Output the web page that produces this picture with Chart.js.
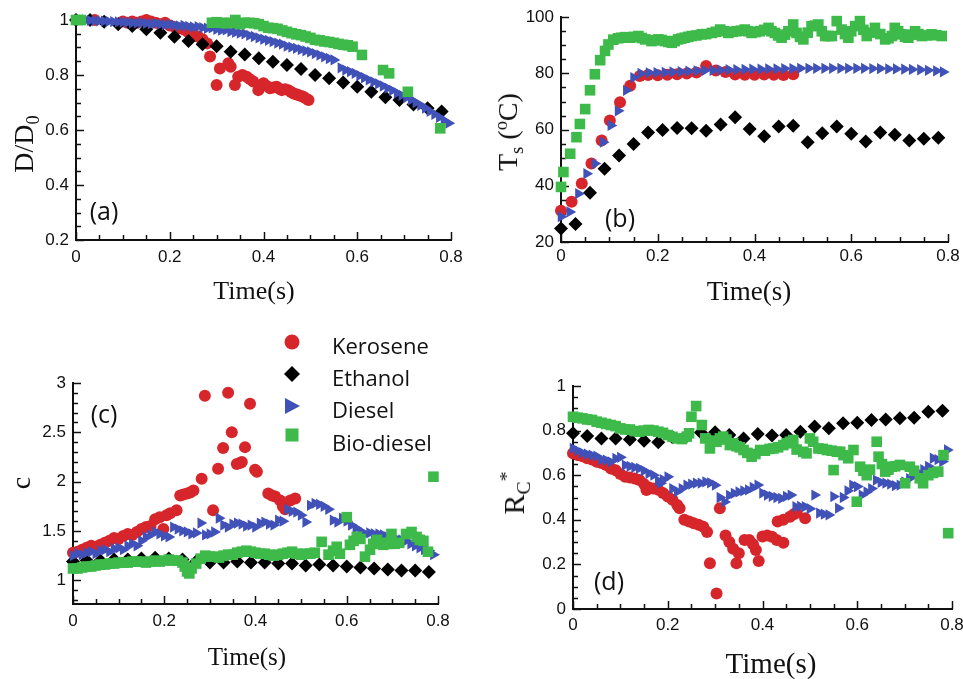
<!DOCTYPE html>
<html><head><meta charset="utf-8">
<script src="https://cdn.jsdelivr.net/npm/chart.js@4.4.0/dist/chart.umd.min.js"></script>
<style>
html,body{margin:0;padding:0;background:#fff;}
body{width:963px;height:679px;overflow:hidden;position:relative;}
canvas{position:absolute;}
.t{position:absolute;white-space:nowrap;font-family:"Liberation Serif","Times New Roman",serif;color:#111;line-height:1;transform:translate(-50%,-50%);}
.rot{transform:translate(-50%,-50%) rotate(-90deg);}
.sub{font-size:66%;position:relative;top:0.3em;}
.sup{font-size:66%;position:relative;top:-0.55em;}
.pl{position:absolute;font-family:"Open Sans",sans-serif;font-size:25px;color:#111;line-height:1;transform:translate(-50%,-50%);}
.lg{position:absolute;font-family:"Open Sans",sans-serif;font-size:22px;color:#111;line-height:1;transform:translate(0,-50%);white-space:nowrap;}
</style></head>
<body>
<canvas id="ca" width="480" height="320" style="left:0;top:0"></canvas>
<canvas id="cb" width="500" height="320" style="left:480px;top:0"></canvas>
<canvas id="cc" width="480" height="359" style="left:0;top:320px"></canvas>
<canvas id="cd" width="500" height="359" style="left:480px;top:320px"></canvas>

<div class="t" style="left:254px;top:291px;font-size:26px">Time(s)</div>
<div class="t" style="left:749px;top:291px;font-size:27px">Time(s)</div>
<div class="t" style="left:247px;top:656px;font-size:25px">Time(s)</div>
<div class="t" style="left:771px;top:663px;font-size:29px">Time(s)</div>

<div class="t rot" style="left:24px;top:144px;font-size:28px">D/D<span class="sub">0</span></div>
<div class="t rot" style="left:508px;top:132px;font-size:28px">T<span class="sub">s</span> (<span class="sup">o</span>C)</div>
<div class="t rot" style="left:21px;top:483px;font-size:28px">c</div>
<div class="t rot" style="left:514px;top:493px;font-size:30px">R<span class="sub">C</span><span class="sup">*</span></div>

<div class="pl" style="left:104px;top:210px">(a)</div>
<div class="pl" style="left:620px;top:217px">(b)</div>
<div class="pl" style="left:104px;top:413px">(c)</div>
<div class="pl" style="left:609px;top:580px">(d)</div>

<svg width="963" height="679" style="position:absolute;left:0;top:0;pointer-events:none">
  <circle cx="292" cy="342" r="7.5" fill="#d7262b"/>
  <polygon points="284,374 292,366 300,374 292,382" fill="#000"/>
  <polygon points="285,398 300,406 285,414" fill="#4051b8"/>
  <rect x="285.5" y="428.5" width="13" height="13" fill="#3dba4a"/>
</svg>
<div class="lg" style="left:332px;top:345px">Kerosene</div>
<div class="lg" style="left:332px;top:377px">Ethanol</div>
<div class="lg" style="left:332px;top:409px">Diesel</div>
<div class="lg" style="left:332px;top:442px">Bio-diesel</div>

<script>
// ---------- tick labels ----------
const xTickValues = [0, 0.2, 0.4, 0.6, 0.8];
const xTickLabels = ['0', '0.2', '0.4', '0.6', '0.8'];
const yTicksA = [0.2, 0.4, 0.6, 0.8, 1];
const yLabelsA = ['0.2', '0.4', '0.6', '0.8', '1'];
const yTicksB = [20, 40, 60, 80, 100];
const yLabelsB = ['20', '40', '60', '80', '100'];
const yTicksC = [1, 1.5, 2, 2.5, 3];
const yLabelsC = ['1', '1.5', '2', '2.5', '3'];
const yTicksD = [0, 0.2, 0.4, 0.6, 0.8, 1];
const yLabelsD = ['0', '0.2', '0.4', '0.6', '0.8', '1'];

// ---------- panel (a): D/D0 ----------
const keroseneA = [[0.04,1.0],[0.10,0.995],[0.11,0.99],[0.12,0.995],[0.13,0.99],[0.14,0.995],[0.15,1.0],[0.16,0.995],[0.17,0.99],[0.18,0.985],[0.19,0.99],[0.20,0.98],[0.21,0.975],[0.22,0.97],[0.23,0.965],[0.24,0.955],[0.25,0.95],[0.26,0.94],[0.27,0.93],[0.28,0.915],[0.286,0.867],[0.30,0.764],[0.307,0.824],[0.325,0.843],[0.33,0.83],[0.339,0.764],[0.346,0.794],[0.355,0.80],[0.364,0.794],[0.371,0.785],[0.378,0.776],[0.389,0.745],[0.40,0.77],[0.407,0.76],[0.414,0.752],[0.421,0.755],[0.428,0.757],[0.434,0.75],[0.439,0.745],[0.446,0.748],[0.453,0.745],[0.459,0.738],[0.464,0.733],[0.47,0.73],[0.474,0.727],[0.48,0.724],[0.485,0.721],[0.49,0.715],[0.496,0.709]];
const ethanolA = [[0,1.0],[0.03,1.0],[0.06,0.994],[0.09,0.985],[0.12,0.978],[0.15,0.966],[0.18,0.954],[0.21,0.939],[0.24,0.924],[0.27,0.912],[0.30,0.905],[0.33,0.885],[0.36,0.875],[0.39,0.861],[0.42,0.848],[0.45,0.836],[0.48,0.822],[0.51,0.80],[0.54,0.788],[0.57,0.773],[0.60,0.757],[0.63,0.739],[0.66,0.719],[0.69,0.709],[0.72,0.693],[0.75,0.679],[0.78,0.667]];
const dieselA = [[0.02,1.0],[0.03,0.999],[0.04,0.998],[0.05,0.997],[0.06,0.996],[0.07,0.995],[0.08,0.994],[0.09,0.993],[0.10,0.992],[0.11,0.991],[0.12,0.99],[0.13,0.989],[0.14,0.99],[0.15,0.988],[0.16,0.986],[0.17,0.988],[0.18,0.985],[0.19,0.983],[0.20,0.984],[0.21,0.981],[0.22,0.979],[0.23,0.98],[0.24,0.977],[0.25,0.975],[0.26,0.976],[0.27,0.972],[0.28,0.97],[0.29,0.971],[0.30,0.966],[0.31,0.963],[0.32,0.964],[0.33,0.958],[0.34,0.955],[0.35,0.952],[0.36,0.95],[0.37,0.944],[0.38,0.94],[0.39,0.935],[0.40,0.93],[0.41,0.926],[0.42,0.921],[0.43,0.916],[0.44,0.912],[0.45,0.905],[0.46,0.901],[0.47,0.897],[0.48,0.892],[0.49,0.888],[0.50,0.884],[0.51,0.878],[0.52,0.872],[0.53,0.866],[0.54,0.86],[0.55,0.855],[0.565,0.826],[0.575,0.818],[0.585,0.812],[0.595,0.806],[0.605,0.798],[0.615,0.79],[0.625,0.782],[0.635,0.775],[0.645,0.768],[0.655,0.76],[0.665,0.752],[0.675,0.744],[0.685,0.735],[0.695,0.726],[0.705,0.718],[0.715,0.71],[0.725,0.70],[0.735,0.69],[0.745,0.68],[0.755,0.668],[0.765,0.657],[0.775,0.646],[0.785,0.635],[0.795,0.625]];
const biodieselA = [[0,1.0],[0.01,1.0],[0.29,0.99],[0.30,0.992],[0.31,0.99],[0.32,0.988],[0.33,0.99],[0.34,1.0],[0.35,0.985],[0.36,0.99],[0.37,0.99],[0.38,0.988],[0.39,0.985],[0.40,0.978],[0.41,0.972],[0.42,0.97],[0.43,0.968],[0.44,0.962],[0.45,0.957],[0.46,0.952],[0.47,0.948],[0.48,0.945],[0.49,0.94],[0.50,0.935],[0.51,0.928],[0.52,0.926],[0.53,0.922],[0.54,0.92],[0.55,0.917],[0.56,0.913],[0.57,0.91],[0.58,0.908],[0.59,0.903],[0.61,0.873],[0.655,0.818],[0.668,0.806],[0.708,0.739],[0.777,0.606]];

// ---------- panel (b): Ts (°C) ----------
const keroseneB = [[0,31.1],[0.022,34.3],[0.043,40.8],[0.063,47.9],[0.084,56.1],[0.101,63.2],[0.122,69.7],[0.143,75.6],[0.163,79.1],[0.18,79.4],[0.20,79.3],[0.22,79.5],[0.24,79.7],[0.26,80.0],[0.28,80.3],[0.30,82.6],[0.32,81.0],[0.34,80.5],[0.36,79.6],[0.38,79.5],[0.40,79.5],[0.42,79.6],[0.44,79.5],[0.46,79.4],[0.48,79.7]];
const ethanolB = [[0,24.8],[0.03,26.4],[0.06,37.5],[0.09,46.1],[0.12,50.8],[0.15,54.9],[0.18,59.0],[0.21,59.9],[0.24,60.6],[0.27,60.5],[0.30,59.6],[0.33,61.8],[0.36,64.4],[0.39,60.2],[0.42,57.6],[0.45,61.1],[0.48,61.4],[0.51,55.5],[0.54,58.7],[0.57,61.1],[0.60,58.5],[0.63,55.8],[0.66,59.0],[0.69,58.2],[0.72,56.1],[0.75,56.7],[0.78,57.1]];
const dieselB = [[0,29.0],[0.018,30.7],[0.036,37.2],[0.053,44.3],[0.07,47.9],[0.087,55.5],[0.103,61.5],[0.118,66.7],[0.135,74.0],[0.15,78.5],[0.165,80.0],[0.182,80.2],[0.198,80.3],[0.215,80.4],[0.231,80.5],[0.248,80.6],[0.264,80.8],[0.281,80.9],[0.297,81.0],[0.314,81.1],[0.33,81.2],[0.347,81.3],[0.363,81.3],[0.38,81.4],[0.396,81.5],[0.413,81.5],[0.429,81.6],[0.446,81.6],[0.462,81.7],[0.479,81.7],[0.495,81.8],[0.512,81.8],[0.528,81.8],[0.545,81.8],[0.561,81.8],[0.578,81.8],[0.594,81.8],[0.611,81.8],[0.627,81.8],[0.644,81.7],[0.66,81.7],[0.677,81.6],[0.693,81.6],[0.71,81.5],[0.726,81.4],[0.743,81.3],[0.759,81.1],[0.776,80.9],[0.79,80.5]];
const biodieselB = [[0,39.6],[0.005,44.9],[0.019,51.4],[0.032,57.3],[0.039,62.0],[0.05,67.3],[0.06,74.0],[0.07,79.7],[0.081,84.7],[0.091,88.0],[0.098,90.3],[0.108,92.0],[0.118,92.5],[0.125,92.7],[0.133,92.9],[0.143,92.7],[0.151,93.0],[0.16,93.3],[0.167,92.6],[0.174,92.1],[0.187,91.5],[0.194,91.8],[0.201,92.1],[0.208,91.9],[0.215,91.5],[0.222,91.2],[0.229,90.9],[0.235,91.5],[0.242,92.1],[0.249,92.4],[0.256,92.7],[0.263,93.0],[0.27,93.3],[0.28,93.5],[0.291,93.9],[0.30,94.0],[0.312,94.4],[0.32,94.8],[0.329,95.6],[0.337,95.0],[0.346,94.4],[0.355,94.8],[0.363,95.0],[0.372,95.2],[0.38,95.6],[0.387,95.0],[0.394,94.4],[0.402,94.7],[0.411,95.0],[0.42,95.5],[0.429,96.2],[0.435,95.0],[0.442,94.4],[0.449,93.5],[0.456,92.7],[0.463,93.8],[0.47,95.0],[0.48,97.4],[0.487,94.4],[0.494,93.0],[0.501,92.1],[0.51,94.5],[0.518,96.8],[0.525,97.0],[0.532,97.4],[0.539,95.0],[0.546,93.3],[0.553,93.3],[0.56,93.3],[0.57,98.6],[0.58,95.6],[0.587,94.0],[0.594,92.7],[0.60,95.0],[0.608,96.8],[0.618,98.6],[0.625,95.5],[0.632,93.3],[0.64,94.5],[0.649,96.2],[0.66,94.0],[0.67,92.1],[0.677,92.5],[0.684,93.3],[0.69,96.2],[0.697,95.0],[0.704,93.9],[0.711,93.0],[0.718,92.7],[0.725,93.8],[0.732,95.0],[0.739,94.0],[0.746,93.3],[0.756,93.5],[0.766,93.9],[0.776,93.6],[0.787,93.3]];

// ---------- panel (c): c ----------
const keroseneC = [[0,1.28],[0.01,1.29],[0.02,1.31],[0.03,1.33],[0.04,1.35],[0.05,1.34],[0.06,1.36],[0.07,1.38],[0.08,1.40],[0.09,1.43],[0.10,1.42],[0.11,1.45],[0.12,1.47],[0.13,1.46],[0.14,1.49],[0.15,1.52],[0.16,1.54],[0.17,1.55],[0.18,1.62],[0.19,1.64],[0.198,1.52],[0.205,1.66],[0.213,1.68],[0.227,1.71],[0.235,1.86],[0.242,1.87],[0.25,1.88],[0.257,1.89],[0.264,1.91],[0.282,2.03],[0.289,2.87],[0.307,1.71],[0.318,2.13],[0.329,2.34],[0.34,2.90],[0.348,2.50],[0.359,2.18],[0.366,2.19],[0.37,2.20],[0.377,2.35],[0.388,2.79],[0.399,2.12],[0.403,2.10],[0.428,1.88],[0.436,1.86],[0.443,1.85],[0.454,1.81],[0.46,1.75],[0.465,1.72],[0.476,1.81],[0.487,1.83]];
const ethanolC = [[0,1.19],[0.03,1.20],[0.06,1.20],[0.09,1.21],[0.12,1.21],[0.15,1.22],[0.18,1.23],[0.21,1.22],[0.24,1.21],[0.27,1.19],[0.30,1.18],[0.33,1.18],[0.36,1.19],[0.39,1.18],[0.42,1.18],[0.45,1.17],[0.48,1.17],[0.51,1.15],[0.54,1.16],[0.57,1.15],[0.60,1.14],[0.63,1.13],[0.66,1.12],[0.69,1.11],[0.72,1.10],[0.75,1.10],[0.78,1.085]];
const dieselC = [[0,1.25],[0.01,1.27],[0.02,1.26],[0.03,1.28],[0.04,1.29],[0.05,1.27],[0.06,1.30],[0.07,1.31],[0.08,1.29],[0.09,1.32],[0.10,1.33],[0.11,1.31],[0.12,1.35],[0.13,1.37],[0.14,1.35],[0.15,1.40],[0.16,1.44],[0.17,1.46],[0.18,1.49],[0.19,1.47],[0.20,1.45],[0.21,1.44],[0.22,1.54],[0.23,1.52],[0.24,1.50],[0.25,1.49],[0.26,1.47],[0.27,1.48],[0.28,1.58],[0.29,1.46],[0.30,1.47],[0.31,1.49],[0.32,1.63],[0.33,1.56],[0.34,1.54],[0.35,1.57],[0.36,1.58],[0.37,1.57],[0.38,1.55],[0.39,1.56],[0.40,1.54],[0.41,1.58],[0.42,1.59],[0.43,1.57],[0.44,1.56],[0.45,1.61],[0.46,1.60],[0.47,1.72],[0.48,1.70],[0.49,1.69],[0.50,1.66],[0.51,1.59],[0.52,1.76],[0.53,1.78],[0.54,1.77],[0.55,1.75],[0.56,1.72],[0.57,1.61],[0.58,1.59],[0.59,1.63],[0.60,1.60],[0.61,1.56],[0.62,1.53],[0.63,1.50],[0.64,1.47],[0.65,1.48],[0.66,1.47],[0.67,1.47],[0.68,1.46],[0.69,1.44],[0.70,1.42],[0.71,1.42],[0.72,1.41],[0.73,1.40],[0.74,1.37],[0.75,1.35],[0.76,1.33],[0.77,1.31],[0.78,1.30],[0.79,1.26]];
const biodieselC = [[0,1.12],[0.01,1.12],[0.02,1.13],[0.03,1.14],[0.04,1.14],[0.05,1.15],[0.06,1.16],[0.07,1.16],[0.08,1.17],[0.09,1.17],[0.10,1.18],[0.11,1.18],[0.12,1.18],[0.13,1.19],[0.14,1.19],[0.15,1.19],[0.16,1.18],[0.17,1.19],[0.18,1.20],[0.19,1.19],[0.20,1.20],[0.21,1.21],[0.22,1.20],[0.23,1.20],[0.24,1.18],[0.245,1.14],[0.25,1.09],[0.255,1.07],[0.26,1.12],[0.27,1.17],[0.28,1.22],[0.29,1.25],[0.30,1.24],[0.31,1.24],[0.32,1.23],[0.33,1.25],[0.34,1.26],[0.35,1.26],[0.36,1.28],[0.37,1.29],[0.38,1.30],[0.39,1.29],[0.40,1.28],[0.41,1.27],[0.42,1.27],[0.43,1.26],[0.44,1.25],[0.45,1.26],[0.46,1.27],[0.47,1.28],[0.48,1.29],[0.49,1.27],[0.50,1.26],[0.51,1.27],[0.52,1.27],[0.53,1.28],[0.545,1.39],[0.56,1.26],[0.57,1.30],[0.578,1.34],[0.585,1.27],[0.60,1.64],[0.607,1.36],[0.615,1.40],[0.622,1.44],[0.63,1.42],[0.64,1.24],[0.651,1.31],[0.658,1.37],[0.666,1.41],[0.675,1.38],[0.68,1.36],[0.69,1.37],[0.698,1.47],[0.705,1.37],[0.715,1.38],[0.73,1.47],[0.742,1.49],[0.753,1.44],[0.76,1.41],[0.768,1.40],[0.778,1.29],[0.79,2.05]];

// ---------- panel (d): Rc* ----------
const keroseneD = [[0,0.698],[0.01,0.69],[0.02,0.685],[0.03,0.676],[0.04,0.67],[0.05,0.66],[0.06,0.655],[0.07,0.646],[0.08,0.63],[0.09,0.622],[0.10,0.605],[0.11,0.593],[0.12,0.59],[0.13,0.585],[0.14,0.578],[0.15,0.56],[0.155,0.534],[0.16,0.545],[0.17,0.54],[0.18,0.535],[0.19,0.52],[0.20,0.505],[0.21,0.49],[0.22,0.466],[0.225,0.452],[0.235,0.40],[0.245,0.392],[0.255,0.385],[0.265,0.378],[0.275,0.369],[0.283,0.345],[0.289,0.205],[0.303,0.07],[0.31,0.452],[0.322,0.33],[0.33,0.30],[0.338,0.27],[0.345,0.205],[0.35,0.25],[0.362,0.309],[0.372,0.309],[0.38,0.29],[0.386,0.265],[0.392,0.215],[0.40,0.325],[0.41,0.33],[0.42,0.324],[0.43,0.309],[0.444,0.297],[0.432,0.392],[0.444,0.40],[0.458,0.414],[0.466,0.425],[0.472,0.432],[0.49,0.407]];
const ethanolD = [[0,0.788],[0.03,0.776],[0.06,0.765],[0.09,0.765],[0.12,0.76],[0.15,0.755],[0.18,0.748],[0.21,0.77],[0.24,0.775],[0.27,0.792],[0.30,0.793],[0.33,0.78],[0.36,0.765],[0.39,0.785],[0.42,0.778],[0.45,0.78],[0.48,0.795],[0.51,0.818],[0.54,0.81],[0.57,0.833],[0.60,0.835],[0.63,0.848],[0.66,0.85],[0.69,0.855],[0.72,0.858],[0.75,0.885],[0.78,0.889]];
const dieselD = [[0,0.72],[0.01,0.71],[0.02,0.70],[0.03,0.695],[0.04,0.69],[0.05,0.685],[0.06,0.67],[0.07,0.668],[0.08,0.66],[0.09,0.675],[0.10,0.68],[0.11,0.645],[0.12,0.64],[0.13,0.635],[0.14,0.631],[0.15,0.62],[0.16,0.608],[0.17,0.60],[0.18,0.575],[0.185,0.564],[0.19,0.58],[0.20,0.593],[0.21,0.54],[0.22,0.526],[0.23,0.54],[0.24,0.556],[0.25,0.56],[0.26,0.565],[0.27,0.564],[0.28,0.57],[0.29,0.566],[0.30,0.555],[0.31,0.50],[0.32,0.48],[0.33,0.51],[0.34,0.519],[0.35,0.525],[0.36,0.53],[0.37,0.534],[0.38,0.545],[0.39,0.556],[0.40,0.52],[0.41,0.511],[0.42,0.505],[0.43,0.50],[0.44,0.496],[0.45,0.505],[0.46,0.511],[0.47,0.459],[0.48,0.46],[0.49,0.459],[0.50,0.45],[0.51,0.511],[0.52,0.43],[0.53,0.425],[0.54,0.422],[0.55,0.504],[0.56,0.452],[0.57,0.50],[0.58,0.53],[0.59,0.556],[0.60,0.549],[0.61,0.511],[0.62,0.525],[0.63,0.54],[0.64,0.578],[0.65,0.568],[0.66,0.564],[0.67,0.56],[0.68,0.553],[0.69,0.556],[0.70,0.57],[0.71,0.585],[0.72,0.60],[0.73,0.61],[0.74,0.625],[0.75,0.64],[0.76,0.676],[0.77,0.67],[0.78,0.661],[0.79,0.713]];
const biodieselD = [[0,0.862],[0.01,0.858],[0.02,0.855],[0.03,0.85],[0.04,0.848],[0.05,0.84],[0.06,0.835],[0.07,0.83],[0.08,0.825],[0.09,0.82],[0.10,0.81],[0.11,0.805],[0.12,0.805],[0.13,0.798],[0.14,0.795],[0.15,0.80],[0.16,0.803],[0.17,0.80],[0.18,0.795],[0.19,0.79],[0.20,0.78],[0.21,0.772],[0.22,0.765],[0.23,0.762],[0.24,0.773],[0.245,0.788],[0.25,0.862],[0.26,0.91],[0.272,0.825],[0.279,0.765],[0.289,0.72],[0.296,0.755],[0.303,0.75],[0.31,0.765],[0.317,0.773],[0.324,0.76],[0.331,0.735],[0.338,0.743],[0.345,0.73],[0.352,0.725],[0.36,0.713],[0.368,0.70],[0.377,0.683],[0.385,0.695],[0.395,0.713],[0.405,0.71],[0.415,0.718],[0.423,0.72],[0.433,0.725],[0.444,0.735],[0.451,0.743],[0.458,0.75],[0.465,0.758],[0.472,0.715],[0.486,0.705],[0.493,0.698],[0.50,0.765],[0.507,0.75],[0.518,0.72],[0.527,0.718],[0.536,0.713],[0.546,0.71],[0.55,0.623],[0.557,0.705],[0.564,0.705],[0.571,0.69],[0.581,0.676],[0.592,0.713],[0.599,0.481],[0.606,0.638],[0.613,0.62],[0.62,0.60],[0.627,0.625],[0.641,0.75],[0.645,0.683],[0.652,0.65],[0.659,0.616],[0.666,0.625],[0.673,0.638],[0.68,0.64],[0.69,0.646],[0.701,0.564],[0.711,0.638],[0.72,0.62],[0.732,0.586],[0.739,0.564],[0.75,0.60],[0.76,0.61],[0.771,0.616],[0.782,0.69],[0.792,0.34]];

// ---------- styling ----------
const SERIES = {
  kerosene:  {color:'#d7262b', style:'circle',   r:6,   rot:0,  order:3},
  ethanol:   {color:'#000000', style:'rectRot',  r:7,   rot:0,  order:2},
  diesel:    {color:'#4051b8', style:'triangle', r:6.5, rot:90, order:1},
  biodiesel: {color:'#3dba4a', style:'rect',     r:7.5, rot:0,  order:0}
};

function ds(key, pts) {
  const s = SERIES[key];
  return {
    label: key,
    data: pts.map(p => ({x: p[0], y: p[1]})),
    showLine: false,
    pointStyle: s.style, pointRadius: s.r, pointHoverRadius: s.r,
    pointRotation: s.rot,
    backgroundColor: s.color, borderColor: s.color, borderWidth: 0,
    order: s.order, clip: false
  };
}

const inTicks = {
  id: 'inTicks',
  beforeDatasetsDraw(chart) {
    const cfg = chart.options.plugins.inTicks;
    const {ctx, chartArea: a, scales: {x, y}} = chart;
    ctx.save();
    ctx.strokeStyle = '#111';
    ctx.lineWidth = 1.5;
    const isMajor = (v, list) => list.some(m => Math.abs(m - v) < 1e-6);
    let start = Math.ceil(x.min / cfg.xMinor - 1e-6) * cfg.xMinor;
    for (let v = start; v <= x.max + 1e-6; v += cfg.xMinor) {
      const px = Math.round(x.getPixelForValue(v)) + 0.5;
      const len = isMajor(v, xTickValues) ? 8 : 5;
      ctx.beginPath(); ctx.moveTo(px, a.bottom); ctx.lineTo(px, a.bottom - len); ctx.stroke();
    }
    start = Math.ceil(y.min / cfg.yMinor - 1e-6) * cfg.yMinor;
    for (let v = start; v <= y.max + 1e-6; v += cfg.yMinor) {
      const py = Math.round(y.getPixelForValue(v)) + 0.5;
      const len = isMajor(v, cfg.yMajor) ? 8 : 5;
      ctx.beginPath(); ctx.moveTo(a.left, py); ctx.lineTo(a.left + len, py); ctx.stroke();
    }
    ctx.restore();
  }
};

function makePanel(id, g, yMin, yMax, yTicks, yLabels, yMinor, xPad, datasets) {
  const tickFont = {family: '"Liberation Sans", Arial, sans-serif', size: 17};
  new Chart(document.getElementById(id), {
    type: 'scatter',
    data: {datasets},
    options: {
      responsive: false, animation: false, devicePixelRatio: 1, events: [],
      layout: {padding: {left: 0, top: g.T, right: g.W - g.R, bottom: 0}},
      plugins: {legend: {display: false}, tooltip: {enabled: false},
                inTicks: {xMinor: 0.05, yMinor: yMinor, yMajor: yTicks}},
      scales: {
        x: {
          type: 'linear', min: 0, max: 0.8,
          afterFit(s) { s.height = g.H - g.B; },
          afterBuildTicks(s) { s.ticks = xTickValues.map(v => ({value: v})); },
          ticks: {callback: (v, i) => xTickLabels[i], font: tickFont, color: '#111',
                  padding: xPad, maxRotation: 0, autoSkip: false},
          grid: {display: false, drawTicks: false},
          border: {display: true, color: '#111', width: 2}
        },
        y: {
          type: 'linear', min: yMin, max: yMax,
          afterFit(s) { s.width = g.L; },
          afterBuildTicks(s) { s.ticks = yTicks.map(v => ({value: v})); },
          ticks: {callback: (v, i) => yLabels[i], font: tickFont, color: '#111',
                  padding: 7, autoSkip: false},
          grid: {display: false, drawTicks: false},
          border: {display: true, color: '#111', width: 2}
        }
      }
    },
    plugins: [inTicks]
  });
}

makePanel('ca', {W:480, H:320, L:76, R:451, T:20, B:240}, 0.2, 1, yTicksA, yLabelsA, 0.05, 7,
  [ds('kerosene', keroseneA), ds('ethanol', ethanolA), ds('diesel', dieselA), ds('biodiesel', biodieselA)]);
makePanel('cb', {W:500, H:320, L:81, R:468, T:16, B:242}, 20, 100, yTicksB, yLabelsB, 5, 4,
  [ds('kerosene', keroseneB), ds('ethanol', ethanolB), ds('diesel', dieselB), ds('biodiesel', biodieselB)]);
makePanel('cc', {W:480, H:359, L:73, R:438, T:63, B:284}, 0.76, 3, yTicksC, yLabelsC, 0.1, 7,
  [ds('kerosene', keroseneC), ds('ethanol', ethanolC), ds('diesel', dieselC), ds('biodiesel', biodieselC)]);
makePanel('cd', {W:500, H:359, L:93, R:472, T:66, B:289}, 0, 1, yTicksD, yLabelsD, 0.05, 6,
  [ds('kerosene', keroseneD), ds('ethanol', ethanolD), ds('diesel', dieselD), ds('biodiesel', biodieselD)]);
</script>
</body></html>
